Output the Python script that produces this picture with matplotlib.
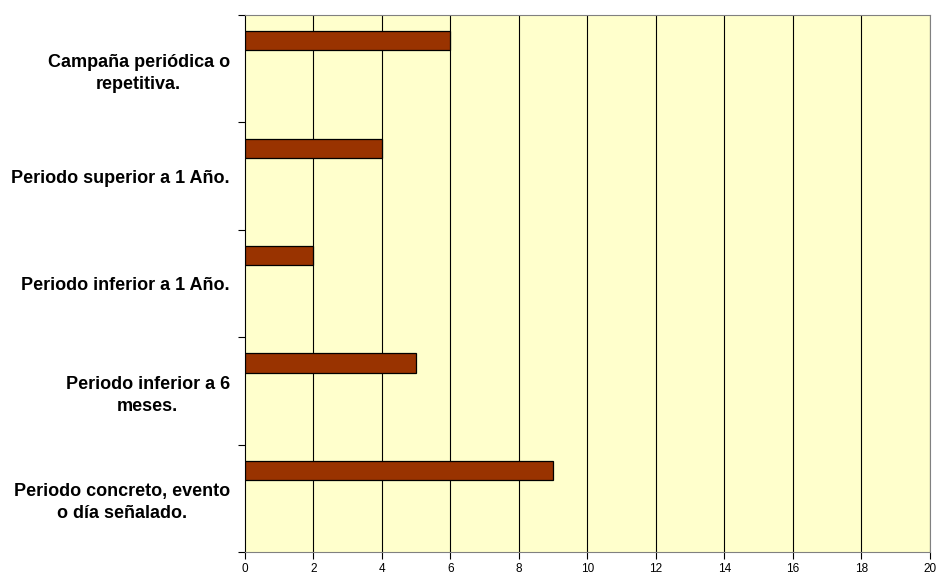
import matplotlib.pyplot as plt
import numpy as np

# categories bottom -> top
categorias = ['Periodo concreto, evento\no día señalado.',
              'Periodo inferior a 6\nmeses.',
              'Periodo inferior a 1 Año.',
              'Periodo superior a 1 Año.',
              'Campaña periódica o\nrepetitiva.']
valores = [9, 5, 2, 4, 6]
xticks = list(range(0, 21, 2))

plt.rcParams['font.family'] = ['Liberation Sans', 'DejaVu Sans']

fig = plt.figure(figsize=(9.37, 5.77), dpi=100)
ax = fig.add_axes([245/937, 25/577, 685/937, 537/577])
ax.set_facecolor('#FFFFCC')

y = np.arange(len(categorias))
# bars sit in the upper part of each band (Excel style)
ax.barh(y + 0.26, valores, height=0.18, color='#993300',
        edgecolor='black', linewidth=0.9, zorder=3)

ax.set_xlim(0, 20)
ax.set_ylim(-0.5, len(categorias) - 0.5)
ax.set_xticks(xticks)
ax.set_xticklabels([str(t) for t in xticks], fontsize=8.5)
for t in xticks[1:]:
    ax.axvline(t, color='black', linewidth=0.8, zorder=1)

ax.set_yticks(np.arange(-0.5, len(categorias), 1.0))
ax.set_yticklabels([])
ax.set_yticks(y, minor=True)
ax.set_yticklabels(categorias, minor=True, fontsize=13, fontweight='bold')
ax.tick_params(axis='y', which='minor', length=0, pad=11)
ax.tick_params(axis='y', which='major', length=5, width=0.8, direction='out')
ax.tick_params(axis='x', length=5, width=0.8, direction='out', pad=3)
for lbl in ax.get_yticklabels(minor=True):
    lbl.set_multialignment('center')
    lbl.set_linespacing(1.4)

ax.spines['left'].set_color('black')
ax.spines['bottom'].set_color('#808080')
ax.spines['top'].set_color('#808080')
ax.spines['right'].set_color('#808080')
for s in ax.spines.values():
    s.set_linewidth(0.8)

fig.savefig('out.png', dpi=100)
